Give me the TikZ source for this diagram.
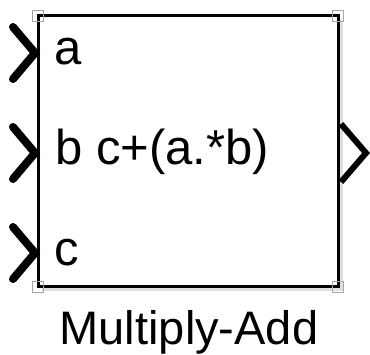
\documentclass[tikz,border=0pt]{standalone}
\usepackage{fontspec}
\setmainfont{Liberation Sans}
\usetikzlibrary{calc}
\begin{document}
\begin{tikzpicture}[x=1pt,y=-1pt,
  blockedge/.style={line width=3pt,draw=black},
  handle/.style={draw=gray!70,line width=1.4pt},
  inport/.style={line width=8pt,line cap=round,line join=miter},
  outport/.style={line width=6pt,line cap=butt,line join=miter},
  lbl/.style={inner sep=0pt,anchor=base west,font=\fontsize{49}{52}\selectfont},
  title/.style={inner sep=0pt,anchor=base,font=\fontsize{47}{52}\selectfont}]
\useasboundingbox (0,0) rectangle (370,355);
% shadow
\draw[gray!25,line width=3pt] (341,20) -- (341,290) -- (42,290);
% block
\coordinate (tl) at (38,16);
\coordinate (br) at (338,287);
\draw[blockedge,fill=white] (tl) rectangle (br);
\coordinate (tr) at (338,16);
\coordinate (bl) at (38,287);
\foreach \c in {tl,tr,bl,br}{
  \draw[handle] ($(\c)+(-5.5,-5.5)$) rectangle ($(\c)+(5.5,5.5)$);
}
% input ports
\draw[inport] (13,27) -- (35,53) -- (13,79);
\draw[inport] (13,127) -- (35,153) -- (13,179);
\draw[inport] (13,227) -- (35,253) -- (13,279);
% output port
\draw[outport] (341,124) -- (366,153) -- (341,182);
% labels
\node[lbl] (la) at (54,65) {a};
\node[lbl] (lb) at (55,165) {b c+(a.*b)};
\node[lbl] (lc) at (54,266) {c};
\node[title] (name) at (189,345) {Multiply-Add};
\end{tikzpicture}
\end{document}
